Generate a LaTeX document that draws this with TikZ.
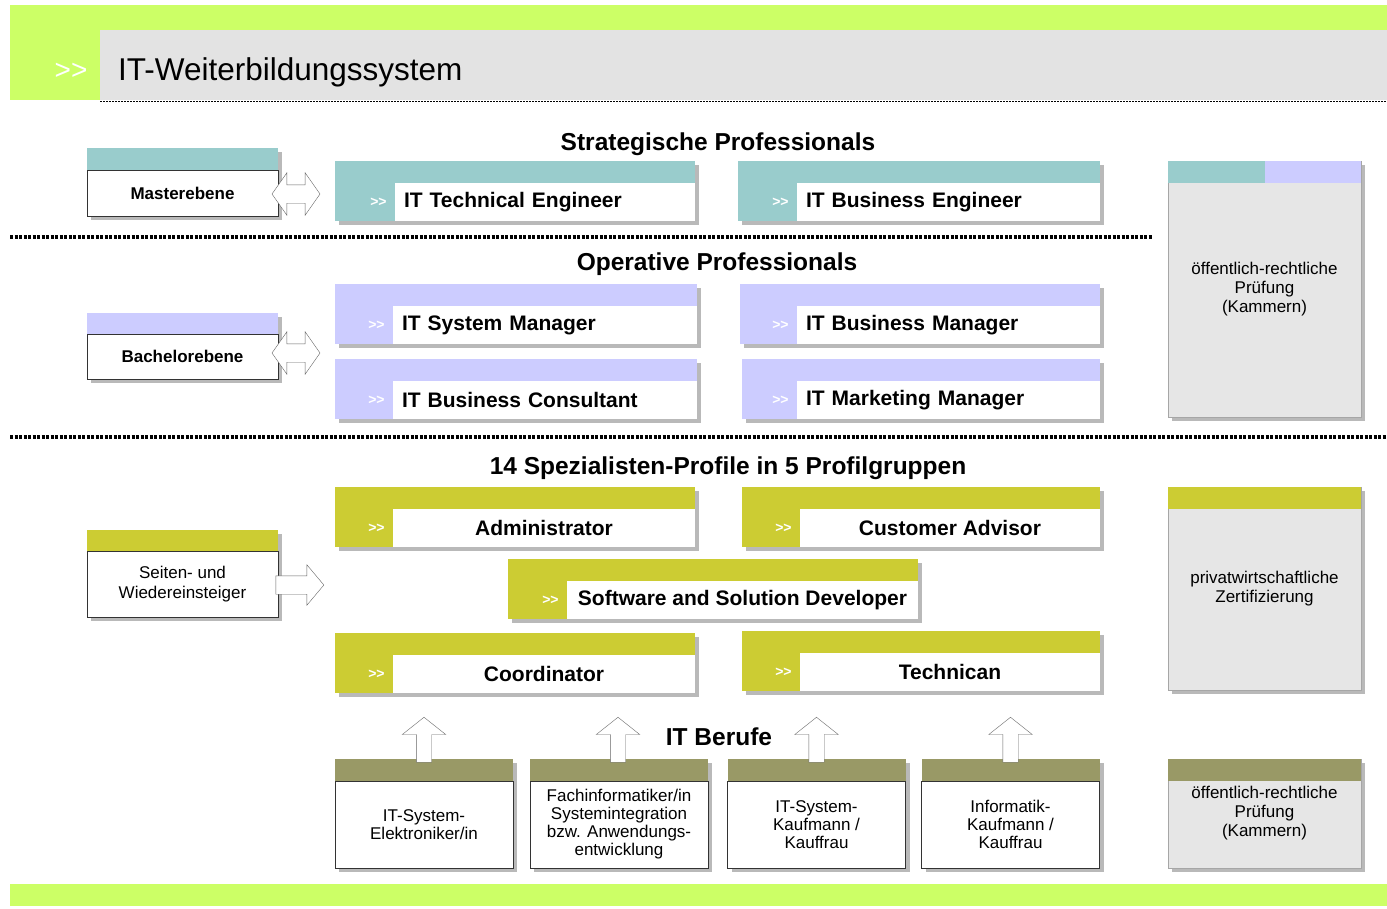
\documentclass[tikz,border=0pt]{standalone}
\usepackage{fontspec}
\setmainfont{Liberation Sans}
\usetikzlibrary{positioning,shapes.arrows,shadows}

\definecolor{hellgruen}{HTML}{CCFF66}
\definecolor{titelgrau}{HTML}{E3E3E3}
\definecolor{tuerkis}{HTML}{99CCCC}
\definecolor{lila}{HTML}{CCCCFF}
\definecolor{oliv}{HTML}{CCCC33}
\definecolor{khaki}{HTML}{999966}
\definecolor{hellgrau}{HTML}{E6E6E6}

\begin{document}
\begin{tikzpicture}[x=1pt, y=-1pt,
            schatten/.style={drop shadow={shadow xshift=4pt, shadow yshift=-4pt, fill=black!55}},
            profil/.style={schatten, inner sep=0pt, minimum height=60pt},
            feld/.style={fill=white, anchor=south east, minimum height=38pt, inner xsep=9pt, inner ysep=0pt,
                         font=\bfseries\fontsize{21}{24}\selectfont},
            links/.style={feld, text width=#1, align=left},
            mitte/.style={feld, minimum width=#1, align=center},
            zeichen/.style={text=white, anchor=east, inner sep=0pt, font=\bfseries\fontsize{14}{14}\selectfont},
            ueber/.style={inner sep=0pt, font=\bfseries\fontsize{24.5}{28}\selectfont},
            ebene/.style={schatten, inner sep=0pt, minimum width=191pt},
            ebenefeld/.style={fill=white, draw=black!80, anchor=south, minimum width=191pt, inner sep=0pt,
                              align=center, font=\fontsize{17}{20}\selectfont},
            pruefung/.style={schatten, fill=hellgrau, draw=black!35, minimum width=193pt, inner sep=0pt,
                             align=center, font=\fontsize{17}{19}\selectfont},
            band/.style={inner sep=0pt, minimum height=22pt},
            beruf/.style={schatten, fill=khaki, minimum width=178pt, minimum height=109pt, inner sep=0pt},
            beruffeld/.style={fill=white, draw=black!80, anchor=south, minimum width=178pt, minimum height=87pt,
                              inner sep=0pt, align=center, font=\fontsize{17}{18}\selectfont},
            doppel/.style={double arrow, draw=black!60, fill=white, inner sep=9pt, minimum height=48pt,
                           double arrow head extend=12pt, double arrow tip angle=110},
            rechts/.style={single arrow, draw=black!60, fill=white, inner sep=9pt, minimum height=48pt,
                           single arrow head extend=11pt, single arrow tip angle=100},
            hoch/.style={single arrow, draw=black!60, fill=white, inner sep=7.5pt, minimum height=45pt,
                         single arrow head extend=14pt, single arrow tip angle=103, shape border rotate=90},
            trenner/.style={line width=3.5pt, dash pattern=on 3pt off 1.5pt}]

    \useasboundingbox (0,0) rectangle (1387,908);

    % Kopf und Fuss
    \fill[hellgruen] (10,5) rectangle (1387,100);
    \fill[titelgrau] (100,30) rectangle (1387,100);
    \draw[line width=1pt, dash pattern=on 1.5pt off 1.5pt] (100,101) -- (1387,101);
    \node[text=white, inner sep=0pt, font=\fontsize{28}{28}\selectfont] (titelz) at (71,71) {>{}>};
    \node[anchor=west, inner sep=0pt, font=\fontsize{31.5}{34}\selectfont] (titel) at (118,72) {IT-Weiterbildungssystem};
    \fill[hellgruen] (10,884) rectangle (1387,906);

    % Strategische Professionals
    \node[ueber] (strat) at (718,144) {Strategische Professionals};
    \node[ebene, fill=tuerkis, minimum height=68pt] (master) at (182.5,182) {};
    \node[ebenefeld, minimum height=46pt] (master-t) at (master.south) {\bfseries Masterebene};
    \node[doppel] (master-p) at (296,194) {};

    \node[profil, fill=tuerkis, minimum width=360pt] (tech) at (515,191) {};
    \node[links=282pt] (tech-t) at (tech.south east) {IT Technical Engineer};
    \node[zeichen] (tech-z) at ([xshift=-8pt]tech-t.west) {>{}>};

    \node[profil, fill=tuerkis, minimum width=362pt] (buseng) at (919,191) {};
    \node[links=285pt] (buseng-t) at (buseng.south east) {IT Business Engineer};
    \node[zeichen] (buseng-z) at ([xshift=-8pt]buseng-t.west) {>{}>};

    \draw[trenner] (10,237) -- (1153,237);

    % Operative Professionals
    \node[ueber] (oper) at (717,264) {Operative Professionals};
    \node[ebene, fill=lila, minimum height=66pt] (bachelor) at (182.5,346) {};
    \node[ebenefeld, minimum height=45pt] (bachelor-t) at (bachelor.south) {\bfseries Bachelorebene};
    \node[doppel] (bachelor-p) at (296,353) {};

    \node[profil, fill=lila, minimum width=362pt] (sysman) at (516,314) {};
    \node[links=286pt] (sysman-t) at (sysman.south east) {IT System Manager};
    \node[zeichen] (sysman-z) at ([xshift=-8pt]sysman-t.west) {>{}>};

    \node[profil, fill=lila, minimum width=360pt] (busman) at (920,314) {};
    \node[links=285pt] (busman-t) at (busman.south east) {IT Business Manager};
    \node[zeichen] (busman-z) at ([xshift=-8pt]busman-t.west) {>{}>};

    \node[profil, fill=lila, minimum width=362pt] (consult) at (516,389) {};
    \node[links=286pt] (consult-t) at (consult.south east) {IT Business Consultant};
    \node[zeichen] (consult-z) at ([xshift=-8pt]consult-t.west) {>{}>};

    \node[profil, fill=lila, minimum width=358pt] (market) at (921,389) {};
    \node[links=285pt] (market-t) at (market.south east) {IT Marketing Manager};
    \node[zeichen] (market-z) at ([xshift=-8pt]market-t.west) {>{}>};

    \node[pruefung, minimum height=256pt] (kammer1) at (1264.5,289) {öffentlich-rechtliche\\Prüfung\\(Kammern)};
    \node[band, fill=tuerkis, minimum width=96.5pt, anchor=north west] (kammer1-a) at (kammer1.north west) {};
    \node[band, fill=lila, minimum width=96.5pt, anchor=north east] (kammer1-b) at (kammer1.north east) {};

    \draw[trenner] (10,437) -- (1387,437);

    % Spezialisten
    \node[ueber] (spez) at (728,468) {14 Spezialisten-Profile in 5 Profilgruppen};
    \node[ebene, fill=oliv, minimum height=87pt] (seiten) at (182.5,573.5) {};
    \node[ebenefeld, minimum height=66pt] (seiten-t) at (seiten.south) {Seiten- und\\Wiedereinsteiger};
    \node[rechts] (seiten-p) at (296,585) {};

    \node[profil, fill=oliv, minimum width=360pt] (admin) at (515,517) {};
    \node[mitte=302pt] (admin-t) at (admin.south east) {Administrator};
    \node[zeichen] (admin-z) at ([xshift=-8pt]admin-t.west) {>{}>};

    \node[profil, fill=oliv, minimum width=358pt] (kunde) at (921,517) {};
    \node[mitte=300pt] (kunde-t) at (kunde.south east) {Customer Advisor};
    \node[zeichen] (kunde-z) at ([xshift=-8pt]kunde-t.west) {>{}>};

    \node[profil, fill=oliv, minimum width=410pt] (soft) at (713,589) {};
    \node[mitte=351pt] (soft-t) at (soft.south east) {Software and Solution Developer};
    \node[zeichen] (soft-z) at ([xshift=-8pt]soft-t.west) {>{}>};

    \node[profil, fill=oliv, minimum width=360pt] (coord) at (515,663) {};
    \node[mitte=302pt] (coord-t) at (coord.south east) {Coordinator};
    \node[zeichen] (coord-z) at ([xshift=-8pt]coord-t.west) {>{}>};

    \node[profil, fill=oliv, minimum width=358pt] (techn) at (921,661) {};
    \node[mitte=300pt] (techn-t) at (techn.south east) {Technican};
    \node[zeichen] (techn-z) at ([xshift=-8pt]techn-t.west) {>{}>};

    \node[pruefung, minimum height=203pt] (zert) at (1264.5,588.5) {privatwirtschaftliche\\Zertifizierung};
    \node[band, fill=oliv, minimum width=193pt, anchor=north] (zert-a) at (zert.north) {};

    % IT Berufe
    \node[ueber] (berufe) at (719,737) {IT Berufe};
    \node[beruf] (elektro) at (424,813.5) {};
    \node[beruffeld] (elektro-t) at (elektro.south) {IT-System-\\Elektroniker/in};
    \node[beruf] (fachinf) at (619,813.5) {};
    \node[beruffeld] (fachinf-t) at (fachinf.south) {Fachinformatiker/in\\Systemintegration\\bzw. Anwendungs-\\entwicklung};
    \node[beruf] (syskauf) at (816.5,813.5) {};
    \node[beruffeld] (syskauf-t) at (syskauf.south) {IT-System-\\Kaufmann /\\Kauffrau};
    \node[beruf] (infkauf) at (1010.5,813.5) {};
    \node[beruffeld] (infkauf-t) at (infkauf.south) {Informatik-\\Kaufmann /\\Kauffrau};

    \node[hoch] (elektro-p) at ([yshift=16pt]elektro.north) {};
    \node[hoch] (fachinf-p) at ([yshift=16pt,xshift=-1pt]fachinf.north) {};
    \node[hoch] (syskauf-p) at ([yshift=16pt]syskauf.north) {};
    \node[hoch] (infkauf-p) at ([yshift=16pt]infkauf.north) {};

    \node[pruefung, minimum height=109pt] (kammer2) at (1264.5,813.5) {öffentlich-rechtliche\\Prüfung\\(Kammern)};
    \node[band, fill=khaki, minimum width=193pt, anchor=north] (kammer2-a) at (kammer2.north) {};
\end{tikzpicture}
\end{document}
